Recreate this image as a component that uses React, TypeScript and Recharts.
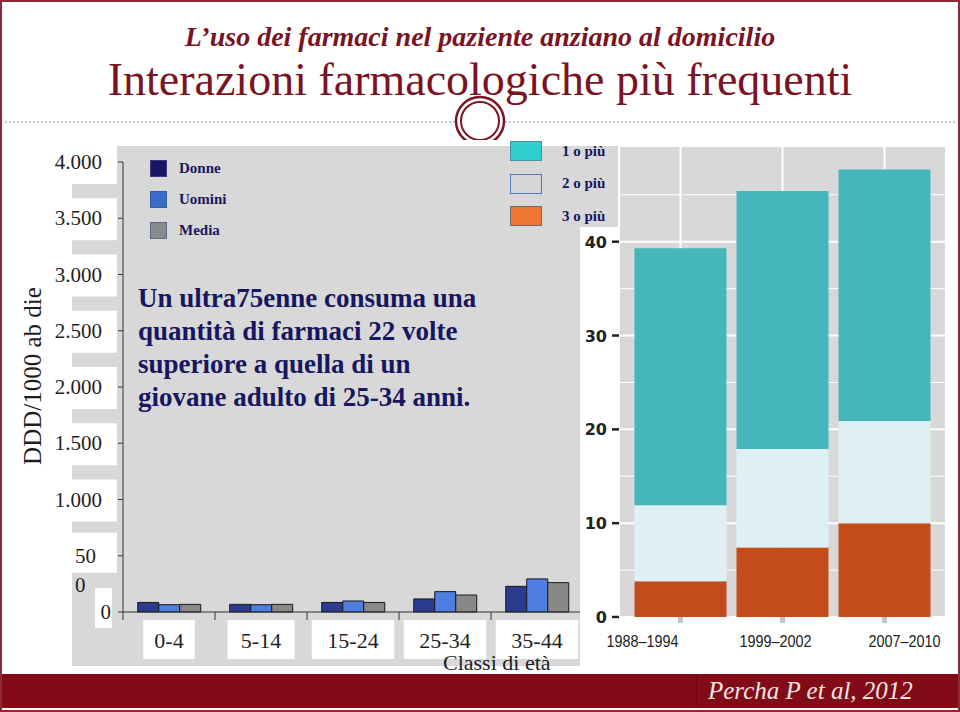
import React from "react";
import { BarChart, Bar, XAxis, YAxis, CartesianGrid, Legend } from "recharts";

const SERIF = '"Liberation Serif", "DejaVu Serif", serif';
const SANS = '"Liberation Sans", Arial, sans-serif';
const MAROON = "#7a1322";
const NAVY = "#17175f";
const PANEL = "#d8d8d8";

// left chart: DDD/1000 ab die per classe di età
const ageClasses = ["0-4", "5-14", "15-24", "25-34", "35-44"];
const donne = [85, 68, 85, 116, 228];
const uomini = [65, 65, 98, 181, 294];
const media = [68, 68, 85, 151, 261];
const dddTicks = [0, 500, 1000, 1500, 2000, 2500, 3000, 3500, 4000];

// right chart: % con 1, 2, 3 o più farmaci (segments of the stack)
const periods = ["1988–1994", "1999–2002", "2007–2010"];
const treOPiu = [3.8, 7.4, 10.0];
const dueSolo = [8.1, 10.5, 10.9];
const unoSolo = [27.4, 27.5, 26.8];
const pctTicks = [0, 10, 20, 30, 40];
const pctMinor = [5, 15, 25, 35, 45];

const ageData = ageClasses.map((c, i) => ({ classe: c, donne: donne[i], uomini: uomini[i], media: media[i] }));
const periodData = periods.map((p, i) => ({ periodo: p, tre: treOPiu[i], due: dueSolo[i], uno: unoSolo[i] }));

const leftSeries = [
  { key: "donne", name: "Donne", fill: "#2b3b8e", swatch: "#1b1566", border: "#3a3a7a" },
  { key: "uomini", name: "Uomini", fill: "#4e7ee0", swatch: "#3a6cc9", border: "#3a5a9a" },
  { key: "media", name: "Media", fill: "#888888", swatch: "#8a8a8a", border: "#5a6a8a" },
];
const rightSeries = [
  { key: "tre", name: "3 o più", fill: "#c24d1b", swatch: "#ee7731", border: "#6b6b6b" },
  { key: "due", name: "2 o più", fill: "#dff0f5", swatch: "#d6d6d6", border: "#4a7db3" },
  { key: "uno", name: "1 o più", fill: "#45b6b9", swatch: "#30cfcf", border: "#4a8fa8" },
];

const fmt = (v: number) => String(v).replace(/\B(?=(\d{3})+(?!\d))/g, ".");
const AGE_BAND = 92;
const periodShift = [-38, -7, 20];

function DddTick(props: any) {
  const { x, y, payload } = props;
  const v: number = payload.value;
  const st = { fontFamily: SERIF, fontSize: 21, fill: "#1e1e1e" };
  if (v === 0) {
    return (
      <g>
        <rect x={x - 21} y={y - 24} width={17} height={40} fill="#fff" />
        <text x={x - 5} y={y + 7} textAnchor="end" {...st}>0</text>
      </g>
    );
  }
  if (v === 500) {
    // the slide shows this label broken in two
    return (
      <g>
        <rect x={x - 76} y={y - 23} width={77} height={40} fill="#fff" />
        <text x={x - 20} y={y + 7} textAnchor="end" {...st}>50</text>
        <text x={x - 41} y={y + 36} textAnchor="start" {...st}>0</text>
      </g>
    );
  }
  return (
    <g>
      <rect x={x - 76} y={y - 20} width={77} height={42} fill="#fff" />
      <text x={x - 14} y={y + 7} textAnchor="end" {...st}>{fmt(v)}</text>
    </g>
  );
}

function AgeTick(props: any) {
  const { x, y, payload, index } = props;
  const label = String(payload.value);
  const w = label.length * 15.5 + 5;
  const last = index === ageClasses.length - 1;
  return (
    <g>
      <line x1={x - AGE_BAND / 2} x2={x - AGE_BAND / 2} y1={y - 2} y2={y + 6} stroke="#333" />
      {last && <line x1={x + AGE_BAND / 2} x2={x + AGE_BAND / 2} y1={y - 2} y2={y + 6} stroke="#333" />}
      <rect x={x - w / 2} y={y + 6} width={w} height={39} fill="#fff" />
      <text x={x} y={y + 34} textAnchor="middle" fontFamily={SERIF} fontSize={22} fill="#1e1e1e">
        {label}
      </text>
    </g>
  );
}

function PctTick(props: any) {
  const { x, y, payload } = props;
  return (
    <text x={x - 3} y={y + 6} textAnchor="end" fontFamily='"DejaVu Sans", sans-serif' fontWeight="bold" fontSize={16} fill="#222">
      {payload.value}
    </text>
  );
}

function PeriodTick(props: any) {
  const { x, y, payload, index } = props;
  return (
    <text x={x + (periodShift[index] || 0)} y={y + 22} textAnchor="middle" fontFamily={SANS} fontSize={16} fill="#222" textLength={72} lengthAdjust="spacingAndGlyphs">
      {payload.value}
    </text>
  );
}

function LeftLegend() {
  return (
    <div>
      {leftSeries.map((s) => (
        <div key={s.key} style={{ display: "flex", alignItems: "center", height: 31 }}>
          <div style={{ width: 15, height: 15, background: s.swatch, border: `1px solid ${s.border}` }} />
          <span style={{ marginLeft: 12, fontFamily: SERIF, fontWeight: "bold", fontSize: 15, color: NAVY }}>{s.name}</span>
        </div>
      ))}
    </div>
  );
}

function RightLegend() {
  return (
    <div>
      {[...rightSeries].reverse().map((s) => (
        <div key={s.key} style={{ display: "flex", alignItems: "center", height: 32.5 }}>
          <div style={{ width: 30, height: 18, background: s.swatch, border: `1px solid ${s.border}` }} />
          <span style={{ marginLeft: 20, fontFamily: SERIF, fontWeight: "bold", fontSize: 15, color: NAVY }}>{s.name}</span>
        </div>
      ))}
    </div>
  );
}

export default function App() {
  return (
    <div
      style={{
        position: "absolute",
        left: 0,
        top: 0,
        width: 960,
        height: 712,
        background: "#fff",
        overflow: "hidden",
        boxSizing: "border-box",
        border: "2px solid #8c2a38",
      }}
    >
      {/* header */}
      <div style={{ position: "absolute", left: 0, top: 19, width: 956, textAlign: "center", fontFamily: SERIF, fontStyle: "italic", fontWeight: "bold", fontSize: 28, lineHeight: "32px", color: MAROON }}>
        L’uso dei farmaci nel paziente anziano al domicilio
      </div>
      <div style={{ position: "absolute", left: 0, top: 53, width: 956, textAlign: "center", fontFamily: SERIF, fontSize: 46, lineHeight: "50px", color: MAROON }}>
        Interazioni farmacologiche più frequenti
      </div>
      <svg style={{ position: "absolute", left: -2, top: -2 }} width={960} height={140}>
        <line x1={5} x2={455} y1={122} y2={122} stroke="#9a9a9a" strokeDasharray="2 2" />
        <line x1={505} x2={955} y1={122} y2={122} stroke="#9a9a9a" strokeDasharray="2 2" />
        <circle cx={480} cy={121} r={24} fill="#fff" stroke={MAROON} strokeWidth={2.5} />
        <circle cx={480} cy={121} r={19} fill="#fff" stroke={MAROON} strokeWidth={2} />
      </svg>

      {/* left chart */}
      <div style={{ position: "absolute", left: 70, top: 144, width: 547, height: 520, background: PANEL }} />
      <div style={{ position: "absolute", left: -2, top: -2 }}>
        <BarChart
          width={600}
          height={712}
          data={ageData}
          margin={{ top: 162, right: 17, bottom: 40, left: 0 }}
          barCategoryGap="16%"
          barGap={0}
        >
          <XAxis dataKey="classe" height={60} tickLine={false} tickSize={0} axisLine={{ stroke: "#333" }} tick={<AgeTick />} interval={0} />
          <YAxis
            width={123}
            domain={[0, 4000]}
            ticks={dddTicks}
            interval={0}
            tickSize={5}
            tickLine={{ stroke: "#333" }}
            axisLine={{ stroke: "#333" }}
            tick={<DddTick />}
          />
          <Legend layout="vertical" align="center" verticalAlign="middle" content={<LeftLegend />} wrapperStyle={{ left: 150, top: 153, width: 120 }} />
          {leftSeries.map((s) => (
            <Bar key={s.key} dataKey={s.key} name={s.name} fill={s.fill} stroke="#1a1a1a" strokeWidth={1} isAnimationActive={false} />
          ))}
        </BarChart>
      </div>
      <div style={{ position: "absolute", left: 136, top: 280, fontFamily: SERIF, fontWeight: "bold", fontSize: 27, lineHeight: "33px", color: NAVY }}>
        Un ultra75enne consuma una
        <br />
        quantità di farmaci 22 volte
        <br />
        superiore a quella di un
        <br />
        giovane adulto di 25-34 anni.
      </div>
      <div style={{ position: "absolute", left: 31, top: 374, width: 0, height: 0 }}>
        <div style={{ position: "absolute", left: -110, top: -15, width: 220, textAlign: "center", transform: "rotate(-90deg)", fontFamily: SERIF, fontSize: 25, lineHeight: "30px", color: "#1e1e1e", whiteSpace: "nowrap" }}>
          DDD/1000 ab die
        </div>
      </div>

      {/* right chart */}
      <div style={{ position: "absolute", left: 578, top: 225, width: 380, height: 440, background: "#fff" }} />
      <div style={{ position: "absolute", left: 498, top: 128 }}>
        <BarChart width={460} height={540} data={periodData} margin={{ top: 16, right: 14, bottom: 13, left: 0 }} barCategoryGap={5}>
          <CartesianGrid fill={PANEL} fillOpacity={1} stroke="#fff" strokeWidth={2} />
          <CartesianGrid horizontalValues={pctMinor} vertical={false} stroke="#fff" strokeWidth={1} />
          <XAxis
            dataKey="periodo"
            height={40}
            padding={{ left: 10.5, right: 10.5 }}
            axisLine={false}
            tickSize={6}
            tickLine={{ stroke: "#c4c4c4", strokeWidth: 5 }}
            tick={<PeriodTick />}
            interval={0}
          />
          <YAxis
            width={119}
            domain={[0, 50.2]}
            ticks={pctTicks}
            interval={0}
            axisLine={false}
            tickSize={7}
            tickLine={{ stroke: "#222", strokeWidth: 2.5 }}
            tick={<PctTick />}
          />
          <Legend layout="vertical" align="center" verticalAlign="middle" content={<RightLegend />} wrapperStyle={{ left: 10, top: 5, width: 120 }} />
          {rightSeries.map((s) => (
            <Bar key={s.key} dataKey={s.key} name={s.name} stackId="n" fill={s.fill} isAnimationActive={false} />
          ))}
        </BarChart>
      </div>

      <div style={{ position: "absolute", left: 441, top: 647, fontFamily: SERIF, fontSize: 22, lineHeight: "28px", color: "#1e1e1e" }}>
        Classi di età
      </div>

      {/* footer */}
      <div style={{ position: "absolute", left: 0, top: 672, width: 956, height: 34, background: "#810c17" }}>
        <div style={{ position: "absolute", left: 694, top: 0, width: 1, height: 34, background: "#6a0912" }} />
        <div style={{ position: "absolute", left: 706, top: 0, fontFamily: SERIF, fontStyle: "italic", fontSize: 25, lineHeight: "34px", color: "#f3e3e3" }}>
          Percha P et al, 2012
        </div>
      </div>
    </div>
  );
}
